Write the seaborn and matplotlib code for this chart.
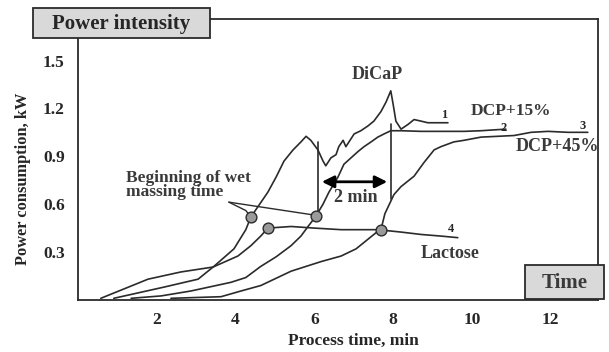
import matplotlib
matplotlib.use("Agg")
import matplotlib.pyplot as plt
import seaborn as sns
import pandas as pd
from matplotlib.patches import Rectangle

# Curves (process time in min, power in kW)
dicap_t = [0.91, 2.18, 3.05, 3.45, 3.96, 4.26, 4.39, 4.64, 4.82, 5.03, 5.23, 5.46, 5.66, 5.79,
           5.91, 6.09, 6.22, 6.29, 6.42, 6.55, 6.62, 6.73, 6.80, 7.01, 7.18, 7.36, 7.51, 7.69,
           7.82, 7.94, 8.00, 8.07, 8.20, 8.38, 8.53, 8.71, 8.88, 9.04, 9.39]
dicap_p = [0.01, 0.08, 0.13, 0.21, 0.32, 0.44, 0.52, 0.61, 0.675, 0.77, 0.87, 0.94, 0.99, 1.025,
           1.00, 0.94, 0.87, 0.84, 0.89, 0.91, 0.96, 1.00, 0.96, 1.04, 1.06, 1.09, 1.12, 1.18,
           1.24, 1.31, 1.225, 1.12, 1.07, 1.10, 1.13, 1.12, 1.11, 1.11, 1.11]

dcp15_t = [1.35, 2.11, 2.87, 3.88, 4.26, 4.64, 5.03, 5.41, 5.66, 5.84, 6.04, 6.22, 6.37, 6.60,
           6.75, 6.93, 7.11, 7.26, 7.44, 7.61, 7.77, 7.94, 8.20, 8.71, 9.21, 9.80, 10.23, 10.86]
dcp15_p = [0.01, 0.025, 0.056, 0.11, 0.14, 0.21, 0.27, 0.34, 0.40, 0.46, 0.525, 0.60, 0.675, 0.77,
           0.85, 0.89, 0.93, 0.96, 0.99, 1.02, 1.04, 1.06, 1.06, 1.056, 1.056, 1.056, 1.06, 1.07]

dcp45_t = [2.36, 3.63, 4.14, 4.64, 5.41, 6.17, 6.68, 7.06, 7.36, 7.56, 7.69, 7.79, 8.02, 8.20,
           8.53, 8.78, 9.04, 9.21, 9.54, 9.80, 10.23, 11.07, 11.50, 11.93, 12.44, 12.94]
dcp45_p = [0.01, 0.02, 0.056, 0.09, 0.18, 0.24, 0.275, 0.32, 0.38, 0.42, 0.44, 0.54, 0.66, 0.71,
           0.775, 0.86, 0.94, 0.96, 0.99, 1.00, 1.02, 1.03, 1.05, 1.056, 1.05, 1.05]

lactose_t = [0.58, 1.78, 2.61, 3.43, 4.06, 4.39, 4.64, 4.82, 5.41, 6.00, 6.68, 7.61, 8.20, 8.71, 9.21, 9.64]
lactose_p = [0.01, 0.13, 0.175, 0.206, 0.275, 0.34, 0.40, 0.45, 0.46, 0.45, 0.44, 0.44, 0.425, 0.41, 0.40, 0.39]

# beginning of wet massing time for each curve
wet_t = [4.39, 4.82, 6.04, 7.69]
wet_p = [0.52, 0.45, 0.525, 0.44]

x_ticks = [2, 4, 6, 8, 10, 12]
y_ticks = [0.3, 0.6, 0.9, 1.2, 1.5]

sns.set_style("white")
plt.rcParams['font.family'] = ['Liberation Serif', 'DejaVu Serif']
plt.rcParams['font.weight'] = 'bold'

fig = plt.figure(figsize=(6.09, 3.52), dpi=100)
ax = fig.add_axes([0.128, 0.148, 0.854, 0.798])

ink = "#2b2b2b"
grey_txt = "#3a3a3a"
for t, p in [(dicap_t, dicap_p), (dcp15_t, dcp15_p), (dcp45_t, dcp45_p), (lactose_t, lactose_p)]:
    df = pd.DataFrame({"t": t, "p": p})
    sns.lineplot(data=df, x="t", y="p", sort=False, estimator=None, color=ink, linewidth=1.2, ax=ax)

sns.scatterplot(x=wet_t, y=wet_p, s=60, color="#9a9a9a", edgecolor=ink, linewidth=1.0, zorder=5, ax=ax)

# pointer from the label to the markers
ax.plot([3.83, 6.04], [0.6125, 0.53], color=ink, linewidth=1.0)
ax.plot([3.83, 4.26, 4.39], [0.6125, 0.56, 0.52], color=ink, linewidth=1.0)

# 2 min markers
ax.plot([6.09, 6.09], [0.52, 0.99], color=ink, linewidth=1.2)
ax.plot([7.94, 7.94], [0.63, 1.10], color=ink, linewidth=1.2)
ax.annotate("", xy=(6.12, 0.74), xytext=(7.92, 0.74),
            arrowprops=dict(arrowstyle="<|-|>", color="black", lw=2.0, mutation_scale=18))
ax.text(7.05, 0.64, "2 min", ha="center", va="center", fontsize=13, color=grey_txt)

ax.text(7.59, 1.41, "DiCaP", ha="center", va="center", fontsize=13, color=grey_txt)
ax.text(9.29, 1.16, "1", ha="center", va="center", fontsize=9)
ax.text(11.0, 1.185, "DCP+15%", ha="center", va="center", fontsize=12.5, color=grey_txt)
ax.text(10.81, 1.075, "2", ha="center", va="center", fontsize=9)
ax.text(12.82, 1.09, "3", ha="center", va="center", fontsize=9)
ax.text(12.16, 0.96, "DCP+45%", ha="center", va="center", fontsize=13, color=grey_txt)
ax.text(9.47, 0.445, "4", ha="center", va="center", fontsize=9)
ax.text(9.44, 0.29, "Lactose", ha="center", va="center", fontsize=13, color=grey_txt)
ax.text(1.22, 0.72, "Beginning of wet\nmassing time", ha="left", va="center",
        fontsize=12.5, color=grey_txt, linespacing=0.85)

ax.set_xlim(0, 13.2)
ax.set_ylim(0, 1.76)
ax.set_xticks(x_ticks)
ax.set_yticks(y_ticks)
ax.set_xticklabels([str(v) for v in x_ticks], fontsize=12.5, fontweight="bold")
ax.set_yticklabels([f"{v:.1f}" for v in y_ticks], fontsize=12.5, fontweight="bold")
ax.tick_params(direction="inout", length=3, width=0.8, color=ink)
ax.tick_params(axis="y", pad=8)
ax.tick_params(axis="x", pad=7)
for s in ax.spines.values():
    s.set_color(ink)
    s.set_linewidth(1.3)

ax.set_xlabel("Process time, min", fontsize=12.5, fontweight="bold", va="center")
ax.xaxis.set_label_coords(0.53, -0.145)
ax.set_ylabel("Power consumption, kW", fontsize=11.8, fontweight="bold", va="center")
ax.yaxis.set_label_coords(-0.105, 0.43)

# header boxes over the corners
fig.patches.append(Rectangle((0.054, 0.892), 0.291, 0.085, transform=fig.transFigure,
                             facecolor="#d9d9d9", edgecolor=ink, linewidth=1.3, zorder=10))
fig.text(0.199, 0.933, "Power intensity", ha="center", va="center", fontsize=15,
         fontweight="bold", zorder=11)
fig.patches.append(Rectangle((0.862, 0.151), 0.130, 0.096, transform=fig.transFigure,
                             facecolor="#d9d9d9", edgecolor=ink, linewidth=1.3, zorder=10))
fig.text(0.927, 0.197, "Time", ha="center", va="center", fontsize=15, fontweight="bold",
         color=grey_txt, zorder=11)

fig.savefig("out.png", dpi=100)
